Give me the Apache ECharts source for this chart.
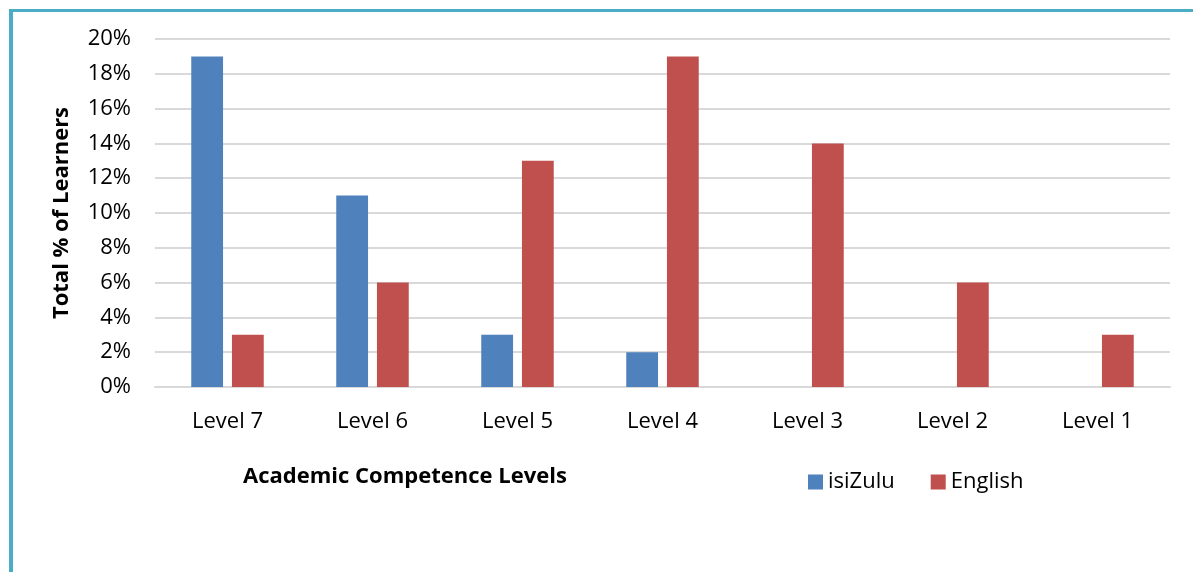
<!DOCTYPE html>
<html>
<head>
<meta charset="utf-8">
<script src="https://cdn.jsdelivr.net/npm/echarts@6/dist/echarts.min.js"></script>
<style>
  html, body { margin: 0; padding: 0; background: #fff; }
  #chart { width: 1193px; height: 572px; }
</style>
</head>
<body>
<div id="chart"></div>
<script>
var levels = ['Level 7', 'Level 6', 'Level 5', 'Level 4', 'Level 3', 'Level 2', 'Level 1'];
var isiZulu = [19, 11, 3, 2, 0, 0, 0];
var english = [3, 6, 13, 19, 14, 6, 3];
var yTicks = [0, 2, 4, 6, 8, 10, 12, 14, 16, 18, 20];

var font = '"Open Sans", Lato, sans-serif';
var myChart = echarts.init(document.getElementById('chart'));

var option = {
  animation: false,
  textStyle: { fontFamily: font },
  grid: { left: 155, right: 23, top: 39, bottom: 185, containLabel: false },
  title: {
    text: 'Academic Competence Levels',
    left: 238, top: 461,
    textStyle: { fontFamily: font, fontSize: 22, fontWeight: 'bold', color: '#000' }
  },
  legend: {
    data: ['isiZulu', 'English'],
    left: 803, top: 466,
    itemWidth: 15, itemHeight: 15, itemGap: 36,
    icon: 'rect',
    textStyle: { fontFamily: font, fontSize: 22, color: '#000' }
  },
  xAxis: {
    type: 'category',
    data: levels,
    axisLine: { lineStyle: { color: '#d9d9d9', width: 2 } },
    axisTick: { show: false },
    axisLabel: { fontSize: 22, color: '#000', margin: 24 }
  },
  yAxis: {
    type: 'value',
    min: yTicks[0], max: yTicks[yTicks.length - 1], interval: 2,
    name: 'Total % of Learners',
    nameLocation: 'middle', nameGap: 82, nameRotate: 90,
    nameTextStyle: { fontFamily: font, fontSize: 22, fontWeight: 'bold', color: '#000' },
    axisLine: { show: false },
    axisTick: { show: false },
    axisLabel: { fontSize: 22, color: '#000', margin: 24, formatter: '{value}%' },
    splitLine: { lineStyle: { color: '#d9d9d9', width: 2 } }
  },
  series: [
    { name: 'isiZulu', type: 'bar', data: isiZulu, barGap: '28%', barCategoryGap: '50%',
      itemStyle: { color: '#4F81BD' } },
    { name: 'English', type: 'bar', data: english,
      itemStyle: { color: '#C0504D' } }
  ],
  graphic: [
    { type: 'line', shape: { x1: 9, y1: 10.5, x2: 1193, y2: 10.5 }, style: { stroke: '#4BACC6', lineWidth: 3 } },
    { type: 'line', shape: { x1: 11, y1: 9, x2: 11, y2: 572 }, style: { stroke: '#4BACC6', lineWidth: 4 } }
  ]
};

myChart.setOption(option);
</script>
</body>
</html>
